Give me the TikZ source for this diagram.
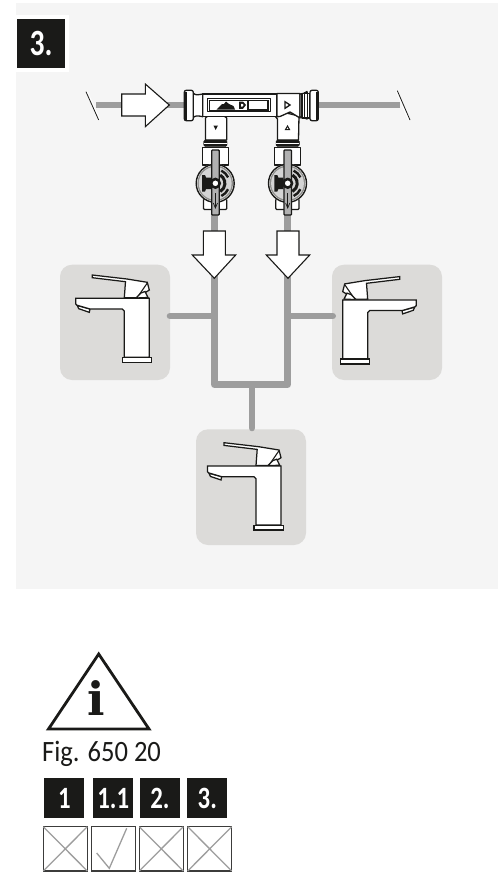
\documentclass[tikz,border=0pt]{standalone}
\usepackage{fontspec}
\setmainfont{Carlito}
\newfontfamily\badgefont[FakeStretch=0.8]{Carlito}
\newfontfamily\figfont[FakeStretch=0.9]{Carlito}
\newfontfamily\infofont{DejaVu Serif}
\definecolor{panelbg}{HTML}{F5F5F5}
\definecolor{tapbg}{HTML}{DCDBD9}
\definecolor{pipegray}{HTML}{9D9D9D}
\definecolor{ink}{HTML}{1A1A18}
\tikzset{
  pipeline/.style={draw=pipegray,line width=6.6pt,line cap=round,line join=round},
  flowarrow/.style={draw=ink,fill=white,line width=1.1pt,line join=miter},
  tappanel/.style={fill=tapbg,rounded corners=12pt},
  partline/.style={draw=ink,fill=white,line width=1.3pt,line join=round},
  tapline/.style={draw=ink,fill=white,line width=1.25pt,line join=miter},
  badgebox/.style={fill=ink},
  badgetext/.style={text=white,font=\badgefont\bfseries\fontsize{31}{31}\selectfont,inner sep=0pt},
  tickbox/.style={draw=ink!85,fill=white,line width=1.3pt},
  tickmark/.style={draw=pipegray,line width=1.3pt},
  breakmark/.style={draw=ink,line width=0.8pt},
}
\newcommand{\tapdrawing}{%
  % lever and handle block
  \draw[tapline] (92.3,275) -- (92.3,277.7) -- (125.5,281.7) -- (124.3,297.7) -- (137.3,297.7) -- (149.3,290) -- (147.3,282.3) -- (127,279) -- cycle;
  \draw[ink,line width=1.1pt] (147.3,283) -- (137.3,297.5);
  \draw[tapline] (141,293) -- (145,291.5) -- (148,297.5) -- (136,298) -- cycle;
  % nozzle
  \draw[tapline] (77.3,305.5) -- (90,309) -- (89.3,312.3) -- (78.7,308.7) -- cycle;
  % body
  \draw[tapline] (75.7,298.3) -- (149.3,298.3) -- (149.3,357.3) -- (124.3,357.3) -- (124.3,311) -- (122.3,309) -- (90,309) -- (77,305.2) -- (75.7,304) -- cycle;
  % base
  \draw[tapline] (122.3,357.5) rectangle (151.7,362.3);
}
\newcommand{\valvedrawing}{%
  % collar
  \draw[ink,fill=ink,rounded corners=1.5pt] (203.7,140) rectangle (227,146.5);
  \draw[white,line width=0.5pt] (204,143) -- (226.7,143);
  % upper nut
  \draw[partline] (202.5,147.7) rectangle (228.3,165);
  % lower nut
  \draw[partline,rounded corners=1pt] (203.5,199) rectangle (226.7,209.5);
  % wheel
  \fill[white] (215.2,183.3) circle (19.6);
  \draw[ink,line width=1.4pt] (215.2,183.3) circle (19);
  \fill[ink!50] (215.2,183.3) circle (17.8);
  \fill[panelbg!85!ink] (215.2,183.3) circle (16.4);
  \fill[ink] (202,175) -- (205,175) -- (206,177.5) -- (211,177.5) -- (211,189) -- (206,189) -- (205,191.5) -- (202,191.5) -- cycle;
  \draw[ink,line width=3pt] (215.4,183.3) ++(-60:9.5) arc[start angle=-60,end angle=60,radius=9.5];
  \draw[ink,line width=2.4pt] (215.4,183.3) ++(-65:14) arc[start angle=-65,end angle=-25,radius=14];
  \draw[ink,line width=2.4pt] (215.4,183.3) ++(25:14) arc[start angle=25,end angle=65,radius=14];
  % handle
  \draw[ink,fill=pipegray!80,line width=1.3pt,rounded corners=0.8pt] (211.7,150) rectangle (219.2,215);
  \draw[ink,line width=2.6pt,fill=white] (215.4,183.3) circle (4.3);
  % handle arrow
  \draw[ink,line width=0.7pt] (215.4,193) -- (215.4,207);
  \draw[ink,line width=0.7pt] (213.3,203) -- (215.4,208) -- (217.5,203);
}
\begin{document}
\begin{tikzpicture}[x=1pt,y=-1pt]
\useasboundingbox (0,0) rectangle (498,889);
\fill[white] (0,0) rectangle (498,889);
% panel
\fill[panelbg] (16,3.3) rectangle (498,589);
\fill[white] (16,15) rectangle (69,72);
\node[badgebox,minimum size=48.7pt,inner sep=0pt] (mainbadge) at (41,43.5) {};
\node[text=white,font=\badgefont\bfseries\fontsize{37}{37}\selectfont,inner sep=0pt] (mainbadgetext) at (41,43.5) {3.};
% tap panels
\fill[tappanel] (60,264.7) rectangle (170,380);
\fill[tappanel] (332,264.7) rectangle (442,380);
\fill[tappanel] (196,429.3) rectangle (306,545);
% named pipe points
\coordinate (inlet) at (96,105);
\coordinate (outlet) at (400,105);
\coordinate (manifoldL) at (190,105);
\coordinate (manifoldR) at (314,105);
\coordinate (valveL) at (214.4,212);
\coordinate (valveR) at (287.7,212);
\coordinate (branchL) at (214.4,316);
\coordinate (branchR) at (287.7,316);
\coordinate (tapL) at (170,316);
\coordinate (tapR) at (332.7,316);
\coordinate (cornerL) at (214.4,384.7);
\coordinate (cornerR) at (287.7,384.7);
\coordinate (teeB) at (252,384.7);
\coordinate (tapB) at (252,428);
% pipes
\draw[pipeline,line cap=butt] (inlet) -- (manifoldL);
\draw[pipeline,line cap=butt] (manifoldR) -- (outlet);
\draw[pipeline] (valveL) -- (cornerL) -- (cornerR) -- (valveR);
\draw[pipeline] (branchL) -- (tapL);
\draw[pipeline] (branchR) -- (tapR);
\draw[pipeline] (teeB) -- (tapB);
% break marks
\draw[white,line width=2pt] (86.8,91.7) -- (99.5,120);
\draw[breakmark] (86,91.7) -- (98.7,120);
\draw[white,line width=2pt] (396.5,90.7) -- (409.2,120);
\draw[breakmark] (397.3,90.7) -- (410,120);
% flow arrows
\draw[flowarrow] (121.7,94) -- (145.3,94) -- (145.3,84) -- (169.3,105) -- (145.3,126.7) -- (145.3,116) -- (121.7,116) -- cycle;
\draw[flowarrow] (203.3,231) -- (225.3,231) -- (225.3,255) -- (235.7,255) -- (214.3,278.3) -- (192.3,255) -- (203.3,255) -- cycle;
\draw[flowarrow] (277,231) -- (299,231) -- (299,255) -- (309.7,255) -- (288,278.3) -- (266.3,255) -- (277,255) -- cycle;
% manifold tubes below the bar
\draw[partline] (205.5,140) -- (205.5,118) -- (211,113) -- (224,116) -- (226.7,118) -- (226.7,140) -- cycle;
\draw[partline] (277.5,140) -- (277.5,119) -- (275,116) -- (282,112) -- (299,116) -- (298.5,140) -- cycle;
\fill[ink] (213.4,125.5) -- (218,125.5) -- (215.7,130) -- cycle;
\draw[ink,line width=1pt] (285.5,129.5) -- (289.5,129.5) -- (287.5,126) -- cycle;
% manifold bar
\draw[partline] (202.7,94) rectangle (277,116.7);
\draw[partline,line width=1.5pt] (207.3,98.3) rectangle (270.7,111.7);
\fill[ink] (208.5,99.5) rectangle (247.5,110.5);
\fill[white] (210,100.5) rectangle (247,109.5);
\fill[ink] (216.5,109.5) -- (222,104) -- (224,104) -- (226,101.5) -- (229,104) -- (233.5,106) -- (235,109.5) -- cycle;
\fill[ink] (239,101.5) -- (243,101.5) -- (246,105) -- (243,108.8) -- (239,108.8) -- cycle;
\fill[white] (241,103.8) -- (242.5,103.8) -- (243.5,105) -- (242.5,106.5) -- (241,106.5) -- cycle;
\draw[ink,line width=1.2pt,fill=white] (248,100.7) rectangle (268,110);
% tee block
\draw[partline] (277,93.5) -- (300,93.5) -- (300,118) -- (290,112) -- (280,116.5) -- (277,116.7) -- cycle;
\draw[ink,line width=1.3pt] (285,101.7) -- (290,105) -- (285,108.3) -- cycle;
% left end
\draw[partline] (193,93) .. controls (196,96) and (199,94.5) .. (202.7,94) -- (202.7,116.7) .. controls (199,116) and (196,115) .. (193,117.5) -- cycle;
\draw[partline,rounded corners=2pt] (184.3,90.3) rectangle (193.3,120.7);
\draw[ink,line width=2pt] (186.3,91.5) -- (186.3,119.5);
% right end
\draw[partline] (300,94) .. controls (303,94) and (305,93) .. (307,91.5) -- (307,119) .. controls (305,118) and (303,117) .. (300,117) -- cycle;
\draw[partline] (302,93.5) rectangle (310,118);
\draw[ink,line width=1.1pt] (304.8,92) -- (304.8,119) (307.5,92) -- (307.5,119);
\draw[partline,rounded corners=2pt] (310,90.3) rectangle (318.3,120.7);
\draw[ink,line width=2pt] (316.5,91.5) -- (316.5,119.5);
% valves
\begin{scope}\valvedrawing\end{scope}
\begin{scope}[shift={(72.3,0)}]\valvedrawing\end{scope}
% taps
\begin{scope}\tapdrawing\end{scope}
\begin{scope}[shift={(492,1.6)},xscale=-1]\tapdrawing\end{scope}
\begin{scope}[shift={(131.7,167.7)}]\tapdrawing\end{scope}
% info triangle
\draw[ink,line width=2.8pt,line join=miter] (98.7,654) -- (149,729) -- (48.5,729) -- cycle;
\node[font=\infofont\bfseries\fontsize{46}{46}\selectfont,text=ink,inner sep=0pt,anchor=base] (infoletter) at (96.7,715) {i};
\node[font=\figfont\fontsize{29.5}{29.5}\selectfont,text=ink,inner sep=0pt,anchor=base west] (figlabel) at (42,761.7) {Fig. 650 20};
% small badges
\node[badgebox,minimum size=40pt,inner sep=0pt] (b1) at (64.3,798.3) {};
\node[badgebox,minimum size=40pt,inner sep=0pt] (b2) at (113.3,798.3) {};
\node[badgebox,minimum size=40pt,inner sep=0pt] (b3) at (160,798.3) {};
\node[badgebox,minimum size=40pt,inner sep=0pt] (b4) at (207.3,798.3) {};
\node[badgetext] (t1) at (b1) {1};
\node[badgetext] (t2) at (b2) {1.1};
\node[badgetext] (t3) at (b3) {2.};
\node[badgetext] (t4) at (b4) {3.};
% tick boxes
\draw[tickbox] (43.3,826.7) rectangle (87.3,871);
\draw[tickmark] (43.3,826.7) -- (87.3,871) (87.3,826.7) -- (43.3,871);
\draw[tickbox] (91.3,826.7) rectangle (135.3,871);
\draw[tickmark] (96.7,853) -- (109.3,868.3) -- (126.7,828.3);
\draw[tickbox] (139.3,826.7) rectangle (183.3,871);
\draw[tickmark] (139.3,826.7) -- (183.3,871) (183.3,826.7) -- (139.3,871);
\draw[tickbox] (187.7,826.7) rectangle (231.7,871);
\draw[tickmark] (187.7,826.7) -- (231.7,871) (231.7,826.7) -- (187.7,871);
\end{tikzpicture}
\end{document}
